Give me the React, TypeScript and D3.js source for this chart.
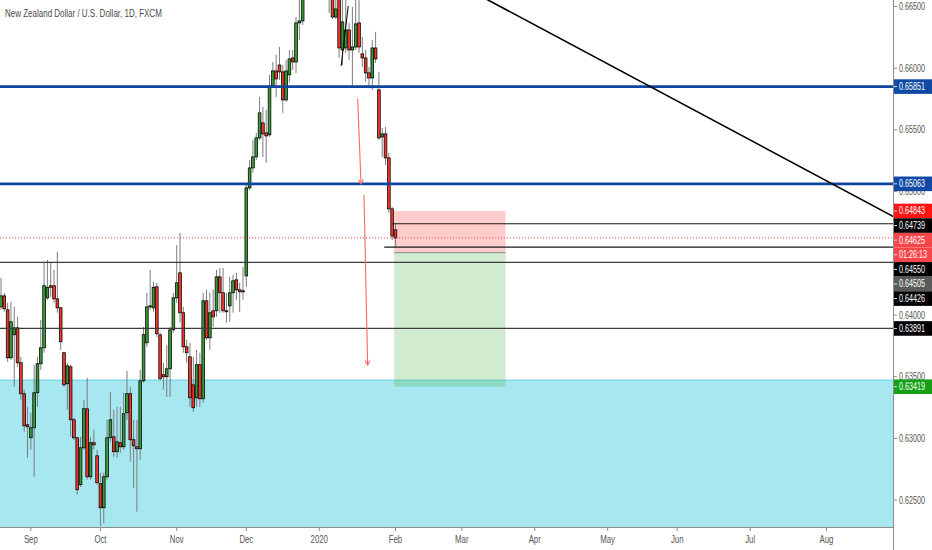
import * as d3 from "d3";

// NZDUSD daily bars, first bar 2019-08-20, one bar per weekday
const startDate = "2019-08-20";

const opens = [
  0.64066, 0.64155, 0.64042, 0.63653, 0.6384, 0.63896, 0.63613, 0.63362, 0.6311, 0.63005,
  0.63086, 0.6337, 0.63605, 0.63734, 0.64139, 0.64237, 0.64237, 0.64131, 0.64058, 0.63694,
  0.63443, 0.6358, 0.63151, 0.63005, 0.62625, 0.62924, 0.6324, 0.62689, 0.62965, 0.62859,
  0.62633, 0.62438, 0.62689, 0.63005, 0.63013, 0.62892, 0.62965, 0.62932, 0.63208, 0.63362,
  0.62989, 0.62932, 0.62916, 0.63467, 0.63775, 0.64066, 0.64058, 0.64228, 0.6384, 0.63516,
  0.63499, 0.63564, 0.6388, 0.64139, 0.64342, 0.64018, 0.63742, 0.63661, 0.63434, 0.63329,
  0.63597, 0.63321, 0.64115, 0.63815, 0.64034, 0.64034, 0.64309, 0.6418, 0.64034, 0.64074,
  0.6418, 0.64285, 0.64204, 0.64196, 0.64317, 0.6503, 0.65192, 0.65281, 0.65435, 0.65557,
  0.65476, 0.6546, 0.65856, 0.65978, 0.66026, 0.6597, 0.65743, 0.65946, 0.66083, 0.66051,
  0.66367, 0.66383, 0.6662, 0.6685, 0.6718, 0.6732, 0.6728, 0.673, 0.6684, 0.6668,
  0.6672, 0.66415, 0.666, 0.66148, 0.66164, 0.6631, 0.66148, 0.66172, 0.66367, 0.66116,
  0.66083, 0.65962, 0.65921, 0.66164, 0.65824, 0.65443, 0.65468, 0.65273, 0.6486, 0.6469,
];
const highs = [
  0.64301, 0.6418, 0.64099, 0.64107, 0.64066, 0.63985, 0.63661, 0.63394, 0.63256, 0.63208,
  0.63597, 0.63661, 0.63961, 0.64423, 0.64447, 0.64423, 0.64366, 0.64512, 0.64066, 0.63702,
  0.63613, 0.63597, 0.63167, 0.63013, 0.63013, 0.63313, 0.63491, 0.63013, 0.6307, 0.62908,
  0.62722, 0.62722, 0.63151, 0.63378, 0.63232, 0.63256, 0.63256, 0.6337, 0.63548, 0.63418,
  0.63151, 0.63151, 0.63556, 0.63904, 0.6418, 0.64366, 0.64269, 0.64261, 0.63856, 0.63613,
  0.63758, 0.63904, 0.6418, 0.64568, 0.64666, 0.64066, 0.63799, 0.63775, 0.63661, 0.63718,
  0.63694, 0.6418, 0.64204, 0.6418, 0.64204, 0.64366, 0.64382, 0.64382, 0.6418, 0.64309,
  0.64326, 0.64342, 0.64261, 0.6439, 0.65054, 0.65257, 0.65419, 0.65476, 0.65767, 0.65686,
  0.65662, 0.65946, 0.66051, 0.66108, 0.66172, 0.66026, 0.66067, 0.66148, 0.66148, 0.66415,
  0.666, 0.6668, 0.669, 0.6725, 0.674, 0.6756, 0.6738, 0.6735, 0.6695, 0.669,
  0.6685, 0.6656, 0.6665, 0.666, 0.6657, 0.66367, 0.66496, 0.6656, 0.6657, 0.66253,
  0.66148, 0.6601, 0.66229, 0.66294, 0.6597, 0.65516, 0.65524, 0.65314, 0.64876, 0.64745,
];
const lows = [
  0.64042, 0.64026, 0.63621, 0.63637, 0.63418, 0.6358, 0.63313, 0.63054, 0.62843, 0.62908,
  0.62689, 0.63256, 0.63556, 0.63694, 0.64123, 0.64147, 0.64099, 0.64018, 0.63718, 0.63418,
  0.63232, 0.63013, 0.62989, 0.62544, 0.62606, 0.62908, 0.62665, 0.62665, 0.62908, 0.62625,
  0.6229, 0.6231, 0.62665, 0.62973, 0.62851, 0.62843, 0.62884, 0.62908, 0.63151, 0.62811,
  0.626, 0.62406, 0.62827, 0.63451, 0.63742, 0.64042, 0.64026, 0.63823, 0.63475, 0.63394,
  0.63337, 0.63337, 0.63856, 0.64099, 0.63937, 0.63694, 0.63613, 0.63256, 0.63216, 0.63256,
  0.63256, 0.63289, 0.63799, 0.63718, 0.63904, 0.63985, 0.64018, 0.64018, 0.63937, 0.63945,
  0.64018, 0.64123, 0.64026, 0.64123, 0.64228, 0.65014, 0.65152, 0.65257, 0.65419, 0.65281,
  0.65233, 0.65443, 0.65848, 0.65767, 0.65905, 0.65638, 0.65727, 0.65881, 0.65986, 0.65962,
  0.66229, 0.6635, 0.6656, 0.668, 0.6705, 0.672, 0.6722, 0.6675, 0.666, 0.66448,
  0.66399, 0.66399, 0.66083, 0.66026, 0.66124, 0.66067, 0.6584, 0.66148, 0.66124, 0.6601,
  0.65889, 0.6584, 0.65824, 0.66043, 0.65419, 0.65281, 0.65216, 0.64828, 0.64609, 0.6455,
];
const closes = [
  0.64155, 0.6405, 0.63653, 0.63945, 0.63896, 0.63613, 0.63362, 0.63102, 0.63094, 0.63086,
  0.6337, 0.63605, 0.63734, 0.64237, 0.64225, 0.64225, 0.64131, 0.64058, 0.63783, 0.63434,
  0.63588, 0.63151, 0.63005, 0.62584, 0.62924, 0.6324, 0.62689, 0.62965, 0.62948, 0.62641,
  0.62438, 0.62689, 0.63005, 0.63151, 0.62892, 0.62973, 0.62932, 0.632, 0.63362, 0.62989,
  0.6294, 0.62916, 0.63467, 0.6384, 0.64066, 0.64074, 0.64225, 0.63848, 0.63483, 0.63499,
  0.63564, 0.6388, 0.64139, 0.64261, 0.64018, 0.63742, 0.63694, 0.63329, 0.63248, 0.63597,
  0.63321, 0.64115, 0.63815, 0.64018, 0.63985, 0.64309, 0.6418, 0.64034, 0.64026, 0.6418,
  0.64277, 0.64204, 0.64188, 0.64188, 0.6503, 0.65192, 0.65281, 0.65435, 0.65638, 0.65468,
  0.65451, 0.65856, 0.65978, 0.65913, 0.6597, 0.65743, 0.65978, 0.66075, 0.66051, 0.66367,
  0.66383, 0.6662, 0.6685, 0.6718, 0.6732, 0.6728, 0.673, 0.6684, 0.6668, 0.6672,
  0.66415, 0.6648, 0.66164, 0.66375, 0.6631, 0.66148, 0.66172, 0.66359, 0.66172, 0.66083,
  0.65962, 0.65921, 0.66164, 0.66075, 0.65435, 0.65468, 0.65273, 0.6486, 0.6464, 0.64625,
];

const priceTicks = [0.625, 0.63, 0.635, 0.64, 0.645, 0.65, 0.655, 0.66, 0.665];

// drawings
const blueLevels = [0.65851, 0.65063];
const greyLevels = [0.64426, 0.63891];
const rayLevels = [0.64739, 0.6455];
const rayStartBars = [117.9, 115.6];
const currentPrice = 0.64625;
const countdown = "01:26:13";
const zoneTop = 0.63471;
const entryPrice = 0.64505;
const stopPrice = 0.64843;
const targetPrice = 0.63419;
const positionBars = [118.6, 152.2];
const trendBars = [195.8, 250.7];
const trendPrices = [0.65851, 0.65063];
const markBars = [102.6, 104.75];
const markPrices = [0.66018, 0.66504];
const arrowBars = [
  [107.6, 108.6],
  [109.5, 110.6],
];
const arrowPrices = [
  [0.6575, 0.65062],
  [0.64973, 0.63595],
];

const W = 932;
const H = 550;
const plotRight = 893;
const plotBottom = 527;
const barStep = 3.315;

const GREEN = "#379a37";
const RED = "#f5352c";

function Txt({ x, y, sx, children, fill, size = 10, anchor = "start" }: any) {
  return (
    <text transform={`translate(${x},${y}) scale(${sx},1)`} fill={fill} fontSize={size} textAnchor={anchor}>
      {children}
    </text>
  );
}

export default function App() {
  const x = d3.scaleLinear().domain([0, 1]).range([1, 1 + barStep]);
  const y = d3.scaleLinear().domain([0.625, 0.665]).range([500.1, 6.5]);

  const parse = d3.timeParse("%Y-%m-%d");
  const barDates = d3.timeDay
    .range(parse(startDate)!, d3.timeDay.offset(parse(startDate)!, 420))
    .filter((d) => d.getDay() !== 0 && d.getDay() !== 6);

  const monthTicks: { bar: number; label: string }[] = [];
  barDates.forEach((d, i) => {
    if (i > 0 && d.getMonth() !== barDates[i - 1].getMonth() && x(i) < plotRight - 20) {
      monthTicks.push({
        bar: i,
        label: d.getMonth() === 0 ? d3.timeFormat("%Y")(d) : d3.timeFormat("%b")(d),
      });
    }
  });

  const trendAt = (b: number) =>
    trendPrices[0] + ((b - trendBars[0]) * (trendPrices[1] - trendPrices[0])) / (trendBars[1] - trendBars[0]);

  // right axis labels, stacked like the price scale does
  const labels = [
    { price: blueLevels[0], text: "0.65851", bg: "#114aa4" },
    { price: blueLevels[1], text: "0.65063", bg: "#114aa4" },
    { price: stopPrice, text: "0.64843", bg: "#ff1414" },
    { price: rayLevels[0], text: "0.64739", bg: "#000000" },
    { price: currentPrice, text: "0.64625", bg: "#f7464a" },
    { price: currentPrice, text: countdown, bg: "#f7464a", follow: true },
    { price: rayLevels[1], text: "0.64550", bg: "#000000" },
    { price: entryPrice, text: "0.64505", bg: "#5b5b5b" },
    { price: greyLevels[0], text: "0.64426", bg: "#000000" },
    { price: greyLevels[1], text: "0.63891", bg: "#000000" },
    { price: targetPrice, text: "0.63419", bg: "#16a016" },
  ];
  const labelH = 14.6;
  const placed: { cy: number; text: string; bg: string }[] = [];
  let prev = -Infinity;
  labels.forEach((l: any) => {
    const natural = l.follow ? prev + labelH : y(l.price);
    const cy = Math.max(natural, prev + labelH);
    placed.push({ cy, text: l.text, bg: l.bg });
    prev = cy;
  });
  // tick labels fully hidden behind a level label are not drawn
  const visibleTicks = priceTicks.filter((p) => !placed.some((l) => Math.abs(l.cy - y(p)) < 6));

  const arrowHead = (x1: number, y1: number, x2: number, y2: number) => {
    const a = Math.atan2(y2 - y1, x2 - x1);
    const len = 5;
    const p1 = [x2 - len * Math.cos(a - 0.5), y2 - len * Math.sin(a - 0.5)];
    const p2 = [x2 - len * Math.cos(a + 0.5), y2 - len * Math.sin(a + 0.5)];
    return `M${p1[0]},${p1[1]}L${x2},${y2}L${p2[0]},${p2[1]}`;
  };

  return (
    <svg
      width={W}
      height={H}
      style={{ position: "absolute", left: 0, top: 0, background: "#fff" }}
      fontFamily="'Liberation Sans', Arial, sans-serif"
    >
      <defs>
        <clipPath id="plot">
          <rect x={0} y={0} width={plotRight} height={plotBottom} />
        </clipPath>
      </defs>
      <rect x={0} y={0} width={W} height={H} fill="#fff" />

      <g clipPath="url(#plot)">
        {/* demand zone */}
        <rect x={0} y={y(zoneTop)} width={plotRight} height={plotBottom - y(zoneTop)} fill="#a6e7f0" />
        <line x1={0} x2={plotRight} y1={y(zoneTop)} y2={y(zoneTop)} stroke="#7fd9e9" strokeWidth={1.5} />

        {/* short position box */}
        <rect
          x={x(positionBars[0])}
          y={y(stopPrice)}
          width={x(positionBars[1]) - x(positionBars[0])}
          height={y(entryPrice) - y(stopPrice)}
          fill="rgba(255,0,0,0.2)"
        />
        <rect
          x={x(positionBars[0])}
          y={y(entryPrice)}
          width={x(positionBars[1]) - x(positionBars[0])}
          height={y(targetPrice) - y(entryPrice)}
          fill="rgba(70,175,70,0.25)"
        />
        <line
          x1={x(positionBars[0])}
          x2={x(positionBars[1])}
          y1={y(entryPrice)}
          y2={y(entryPrice)}
          stroke="#8a8a8a"
          strokeWidth={1}
        />

        {/* candles */}
        {opens.map((o, i) => {
          const c = closes[i];
          const up = c >= o;
          const cx = x(i);
          const top = y(Math.max(o, c));
          const bot = y(Math.min(o, c));
          return (
            <g key={i}>
              <line x1={cx} x2={cx} y1={y(highs[i])} y2={y(lows[i])} stroke="#7c7c7c" strokeWidth={1} />
              <rect
                x={cx - 1.35}
                y={top}
                width={2.7}
                height={Math.max(1, bot - top)}
                fill={up ? GREEN : RED}
                stroke="#000"
                strokeWidth={0.75}
              />
            </g>
          );
        })}

        {/* horizontal levels */}
        {greyLevels.map((p) => (
          <line key={p} x1={0} x2={plotRight} y1={y(p)} y2={y(p)} stroke="#3c3c3c" strokeWidth={1.2} />
        ))}
        {rayLevels.map((p, i) => (
          <line key={p} x1={x(rayStartBars[i])} x2={plotRight} y1={y(p)} y2={y(p)} stroke="#1a1a1a" strokeWidth={1.1} />
        ))}
        {blueLevels.map((p) => (
          <line key={p} x1={0} x2={plotRight} y1={y(p)} y2={y(p)} stroke="#0f45a0" strokeWidth={2.6} />
        ))}
        <line
          x1={0}
          x2={plotRight}
          y1={y(currentPrice)}
          y2={y(currentPrice)}
          stroke="#f44"
          strokeWidth={1}
          strokeDasharray="1 2"
        />

        {/* trend line */}
        <line
          x1={x(120)}
          x2={x(280)}
          y1={y(trendAt(120))}
          y2={y(trendAt(280))}
          stroke="#000"
          strokeWidth={1.6}
        />
        <line
          x1={x(markBars[0])}
          x2={x(markBars[1])}
          y1={y(markPrices[0])}
          y2={y(markPrices[1])}
          stroke="#000"
          strokeWidth={1}
        />

        {/* arrows */}
        {arrowBars.map((b, i) => {
          const x1 = x(b[0]);
          const x2 = x(b[1]);
          const y1 = y(arrowPrices[i][0]);
          const y2 = y(arrowPrices[i][1]);
          return (
            <g key={i} stroke="#f66" strokeWidth={1.1} fill="none">
              <line x1={x1} y1={y1} x2={x2} y2={y2} />
              <path d={arrowHead(x1, y1, x2, y2)} />
            </g>
          );
        })}
      </g>

      {/* title */}
      <Txt x={5} y={17} sx={0.8} fill="#4a4a4a" size={10}>
        New Zealand Dollar / U.S. Dollar, 1D, FXCM
      </Txt>

      {/* price axis */}
      <line x1={plotRight + 0.5} x2={plotRight + 0.5} y1={0} y2={H} stroke="#8c8c8c" strokeWidth={1} />
      {visibleTicks.map((p) => (
        <g key={p}>
          <line x1={plotRight} x2={plotRight + 4} y1={y(p)} y2={y(p)} stroke="#8c8c8c" />
          <Txt x={899} y={y(p) + 3.5} sx={0.72} fill="#555" size={10}>
            {d3.format(".5f")(p)}
          </Txt>
        </g>
      ))}
      {placed.map((l, i) => (
        <g key={i}>
          <rect x={plotRight + 1} y={l.cy - labelH / 2} width={W - plotRight - 1} height={labelH} fill={l.bg} />
          <line x1={plotRight + 1} x2={plotRight + 4} y1={l.cy} y2={l.cy} stroke="#ddd" />
          <Txt x={899} y={l.cy + 3.5} sx={0.72} fill="#fff" size={10}>
            {l.text}
          </Txt>
        </g>
      ))}

      {/* time axis */}
      <line x1={0} x2={plotRight} y1={plotBottom + 0.5} y2={plotBottom + 0.5} stroke="#8c8c8c" strokeWidth={1} />
      {monthTicks.map((t) => (
        <g key={t.bar}>
          <line x1={x(t.bar)} x2={x(t.bar)} y1={plotBottom} y2={plotBottom + 4} stroke="#8c8c8c" />
          <Txt x={x(t.bar)} y={543} sx={0.78} fill="#555" size={10} anchor="middle">
            {t.label}
          </Txt>
        </g>
      ))}
    </svg>
  );
}
